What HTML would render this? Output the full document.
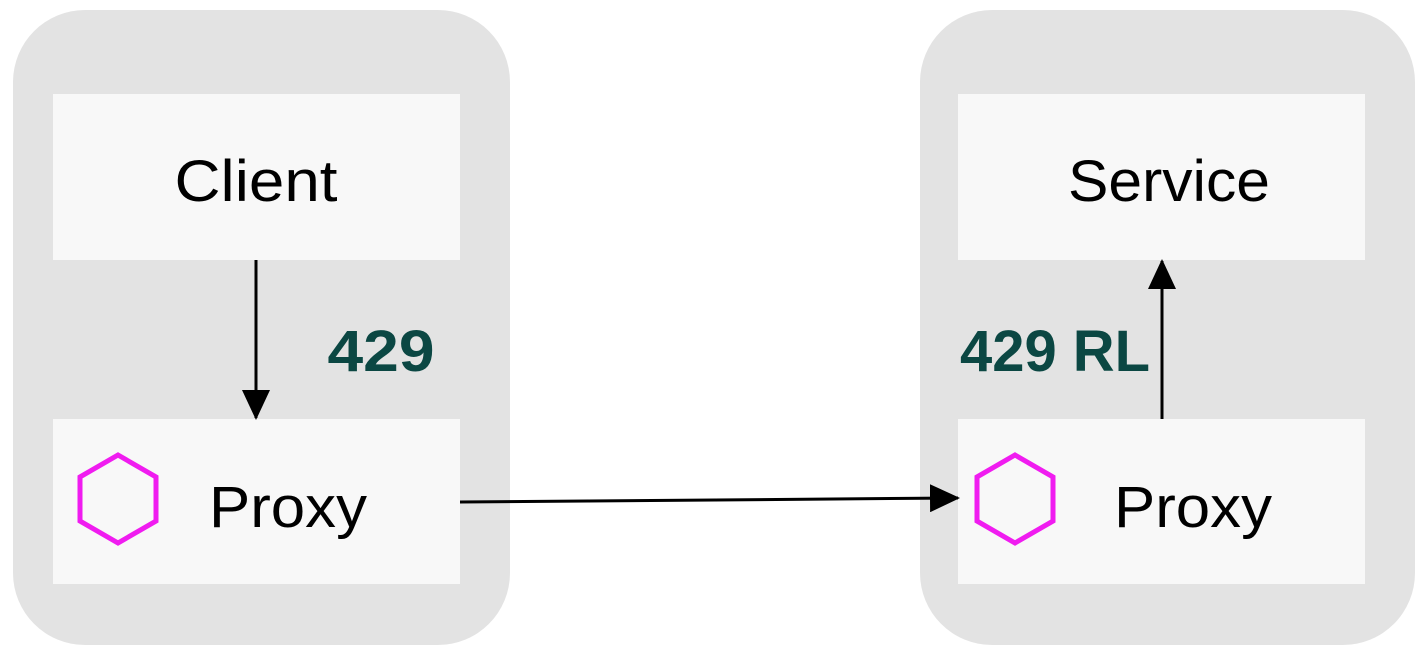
<!DOCTYPE html>
<html><head><meta charset="utf-8"><style>
html,body{margin:0;padding:0;background:#fff;width:1427px;height:648px;overflow:hidden}
svg{display:block}
text{font-family:"Liberation Sans",sans-serif}
</style></head><body>
<svg width="1427" height="648" viewBox="0 0 1427 648">
<defs>
<marker id="ah" markerWidth="30" markerHeight="28" refX="28" refY="14" orient="auto" markerUnits="userSpaceOnUse" viewBox="0 0 30 28">
<path d="M0,0 L30,14 L0,28 z" fill="#000"/>
</marker>
</defs>
<g>
<rect x="13" y="10" width="497" height="635" rx="72" fill="#e3e3e3"/>
<rect x="53" y="94" width="407" height="166" fill="#f8f8f8"/>
<text x="256" y="201" font-size="58" text-anchor="middle" fill="#000" textLength="163" lengthAdjust="spacingAndGlyphs">Client</text>
<rect x="53" y="419" width="407" height="165" fill="#f8f8f8"/>
<polygon points="118,455 156,477 156,521 118,543 80,521 80,477" fill="none" stroke="#f01cf0" stroke-width="5"/>
<text x="288" y="527" font-size="58" text-anchor="middle" fill="#000" textLength="158" lengthAdjust="spacingAndGlyphs">Proxy</text>
</g>
<g>
<rect x="920" y="10" width="495" height="635" rx="72" fill="#e3e3e3"/>
<rect x="958" y="94" width="407" height="166" fill="#f8f8f8"/>
<text x="1169" y="201" font-size="58" text-anchor="middle" fill="#000" textLength="202" lengthAdjust="spacingAndGlyphs">Service</text>
<rect x="958" y="419" width="407" height="165" fill="#f8f8f8"/>
<polygon points="1015,455 1053,477 1053,521 1015,543 977,521 977,477" fill="none" stroke="#f01cf0" stroke-width="5"/>
<text x="1193" y="527" font-size="58" text-anchor="middle" fill="#000" textLength="158" lengthAdjust="spacingAndGlyphs">Proxy</text>
</g>
<line x1="256" y1="260" x2="256" y2="418" stroke="#000" stroke-width="3" marker-end="url(#ah)"/>
<line x1="460" y1="502" x2="958" y2="498" stroke="#000" stroke-width="3" marker-end="url(#ah)"/>
<line x1="1162" y1="419" x2="1162" y2="261" stroke="#000" stroke-width="3" marker-end="url(#ah)"/>
<text x="381" y="371" font-size="58" font-weight="bold" text-anchor="middle" fill="#0b4743" textLength="107" lengthAdjust="spacingAndGlyphs">429</text>
<text x="1055" y="371" font-size="58" font-weight="bold" text-anchor="middle" fill="#0b4743" textLength="190" lengthAdjust="spacingAndGlyphs">429 RL</text>
</svg>
</body></html>
